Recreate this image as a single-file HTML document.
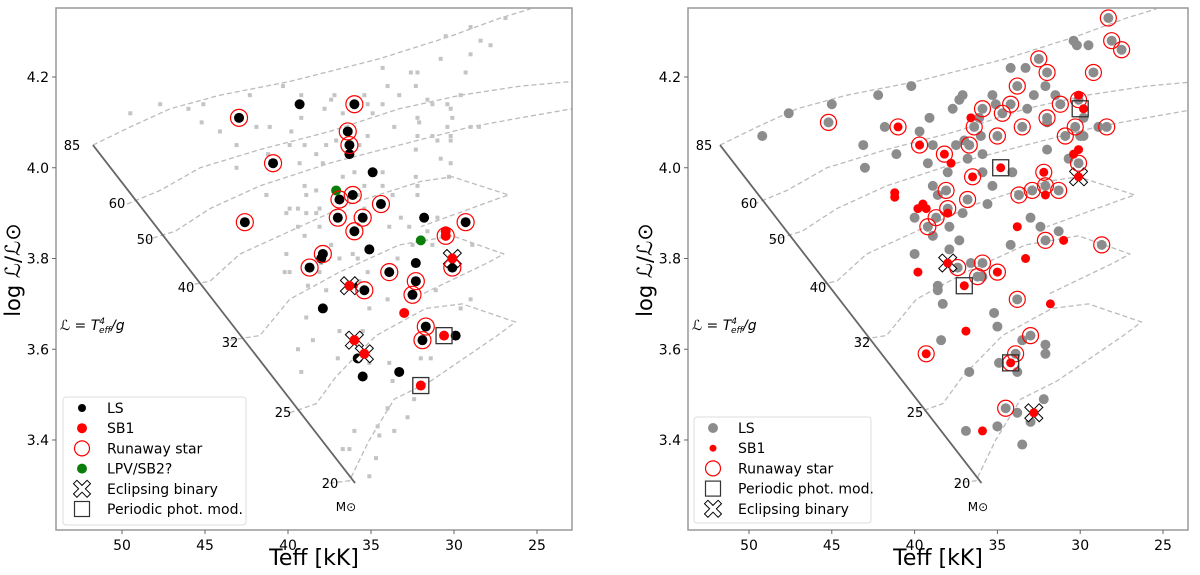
<!DOCTYPE html>
<html><head><meta charset="utf-8">
<style>
html,body{margin:0;padding:0;background:#fff;}
svg{display:block;font-family:"DejaVu Sans","Liberation Sans",sans-serif;}
</style></head>
<body>
<svg id="chart" width="1200" height="575" viewBox="0 0 1200 575" xmlns="http://www.w3.org/2000/svg"></svg>
<script>
// ---- data (Teff in kK, log L/Lsun) ----
const yTicks = [3.4, 3.6, 3.8, 4.0, 4.2];
const xTicks = [50, 45, 40, 35, 30, 25];
const massLabels = ["85","60","50","40","32","25","20"];
const zamsT = [51.75, 35.96];
const zamsL = [4.05, 3.305];
const track85T = [51.75,49.5,47.1,44.1,39.9,34.5,30.2,27.2,25.4];
const track85L = [4.05,4.09,4.13,4.16,4.19,4.24,4.29,4.33,4.35];
const track60T = [49.7,47.7,45.3,41.7,37.5,33.3,29.6,26.0,22.9];
const track60L = [3.92,3.95,4.0,4.04,4.08,4.13,4.16,4.18,4.19];
const track50T = [48.6,46.8,44.7,41.7,37.5,33.3,29.0,26.0,22.9];
const track50L = [3.84,3.86,3.91,3.96,4.01,4.05,4.09,4.11,4.13];
const track40T = [46.1,44.7,42.9,39.9,36.3,32.0,30.1,26.7,27.5,32.0];
const track40L = [3.74,3.75,3.81,3.86,3.92,3.97,3.98,3.94,3.93,3.87];
const track32T = [43.5,41.7,39.9,36.9,33.3,30.1,27.0,28.0,32.0];
const track32L = [3.62,3.63,3.71,3.77,3.83,3.85,3.81,3.79,3.72];
const track25T = [39.9,38.3,37.1,34.7,31.7,29.5,26.3,27.4,31.4];
const track25L = [3.46,3.48,3.54,3.63,3.69,3.70,3.66,3.63,3.53];
const track20T = [37.5,36.3,35.1,33.6,31.4];
const track20L = [3.305,3.31,3.40,3.49,3.53];

// Left panel
const bgT = [45.1,45.2,42.3,43.1,43.1,41.9,41.1,41.2,40.3,39.2,39.2,39.8,39.9,39.0,37.7,38.3,39.3,37.9,37.4,37.2,37.8,36.7,37.1,36.7,36.0,35.4,35.2,34.9,35.2,35.7,34.3,34.3,34.0,34.3,33.3,33.6,32.6,32.2,32.3,31.6,31.3,32.2,32.1,32.2,32.3,31.3,31.0,30.2,30.1,30.2,30.4,29.3,30.4,30.2,30.8,30.2,30.3,32.2,32.3,33.7,34.3,35.4,35.8,38.1,38.3,38.9,39.0,39.9,40.1,39.4,41.3,41.3,38.9,38.3,37.4,38.1,39.0,39.4,40.1,39.9,38.0,38.1,36.1,35.8,35.2,35.7,33.4,33.2,33.9,35.4,32.7,32.2,31.0,31.6,32.5,31.3,28.9,28.5,29.0,38.8,37.7,34.0,31.1,49.5,47.7,46.0,44.1,28.4,27.8,29.0,30.5,26.9,29.0,30.8,29.6,40.2,36.9,36.6,35.1,38.9,38.5,39.4,39.2,37.0,35.1,33.9,33.7,36.9,35.5,32.0,32.4,34.0,32.8,34.6,34.5,36.0,36.7,36.3,34.7,35.1,33.6,29.6,29.0,31.4];
const bgL = [4.14,4.10,4.16,4.05,4.0,4.09,4.09,4.03,4.18,4.16,4.11,4.08,4.05,4.05,4.05,4.03,4.01,4.01,4.15,4.16,4.13,4.12,4.06,3.98,3.99,4.16,4.14,4.12,4.07,4.05,3.99,4.14,4.18,4.22,4.16,4.09,4.21,4.21,4.18,4.15,4.14,4.11,4.10,4.07,4.04,4.07,4.06,4.07,4.11,4.13,4.14,4.21,4.09,4.06,4.02,4.01,3.98,3.96,3.98,3.94,3.96,3.96,3.94,3.91,3.95,3.94,3.96,3.91,3.90,3.91,3.94,3.94,3.90,3.90,3.83,3.87,3.85,3.87,3.81,3.77,3.79,3.77,3.81,3.80,3.77,3.75,3.80,3.89,3.87,3.91,3.87,3.94,3.89,3.86,3.83,3.83,3.83,4.09,4.09,3.74,3.73,3.71,3.73,4.12,4.14,4.13,4.08,4.28,4.27,4.25,4.29,4.33,4.31,4.24,4.16,3.77,3.80,3.73,3.69,3.67,3.62,3.60,3.55,3.58,3.57,3.57,3.53,3.64,3.64,3.58,3.49,3.47,3.45,3.43,3.41,3.42,3.38,3.38,3.36,3.32,3.42,3.69,3.71,3.58];
const lsT = [42.95,39.3,40.9,36.0,36.4,36.3,36.3,34.9,42.6,36.9,36.1,34.4,37.0,35.5,36.0,31.8,29.3,35.1,37.9,38.0,38.7,33.9,32.3,32.3,30.1,37.9,35.4,32.5,31.7,29.9,31.9,35.8,35.5,33.3,36.1];
const lsL = [4.11,4.14,4.01,4.14,4.08,4.05,4.03,3.99,3.88,3.93,3.94,3.92,3.89,3.89,3.86,3.89,3.88,3.82,3.81,3.80,3.78,3.77,3.79,3.75,3.78,3.69,3.73,3.72,3.65,3.63,3.62,3.58,3.54,3.55,3.74];
const sb1T = [30.5,30.5,30.1,36.3,33.0,30.6,36.0,35.4,32.0];
const sb1L = [3.86,3.85,3.80,3.74,3.68,3.63,3.62,3.59,3.52];
const lpvT = [37.1,32.0];
const lpvL = [3.95,3.84];
const runT = [42.95,40.9,36.0,36.4,36.3,42.6,36.9,36.1,34.4,37.0,35.5,36.0,29.3,37.9,38.7,33.9,32.3,30.1,35.4,32.5,31.7,31.9,30.5];
const runL = [4.11,4.01,4.14,4.08,4.05,3.88,3.93,3.94,3.92,3.89,3.89,3.86,3.88,3.81,3.78,3.77,3.75,3.78,3.73,3.72,3.65,3.62,3.85];
const ebT = [30.1,36.3,36.0,35.4];
const ebL = [3.80,3.74,3.62,3.59];
const ppT = [30.6,32.0];
const ppL = [3.63,3.52];

// Right panel
const rLsT = [49.2,47.6,45.0,45.2,43.1,43.0,42.2,41.8,40.2,39.7,39.1,41.1,37.7,35.9,34.7,34.2,35.1,33.2,36.1,36.4,35.0,36.0,33.5,32.0,32.0,31.2,31.5,30.1,29.8,28.9,28.4,30.3,30.9,32.0,30.0,29.8,30.7,30.1,38.9,37.5,36.7,37.0,36.8,35.9,39.2,38.0,35.9,34.1,32.1,32.9,33.7,31.3,35.3,36.8,35.6,38.1,38.9,38.6,38.0,38.7,40.0,39.2,37.9,37.1,38.9,37.3,33.0,32.4,31.3,32.1,28.7,34.2,37.4,35.9,36.2,40.0,37.9,36.6,30.4,30.2,29.5,28.1,27.5,28.3,32.5,32.0,29.2,34.2,33.3,33.8,32.1,32.8,35.3,37.1,37.3,35.9,38.6,38.6,38.3,33.8,35.2,35.0,38.4,33.0,33.5,32.1,32.1,36.7,33.9,34.9,33.8,32.2,34.5,33.8,33.0,36.9,35.0,35.0,33.5];
const rLsL = [4.07,4.12,4.14,4.10,4.05,4.0,4.16,4.09,4.18,4.08,4.11,4.03,4.13,4.13,4.12,4.14,4.14,4.13,4.11,4.09,4.07,4.07,4.09,4.11,4.10,4.14,4.16,4.15,4.11,4.09,4.09,4.09,4.07,4.04,4.07,4.07,4.02,4.01,4.05,4.05,4.05,4.06,4.02,4.03,4.01,3.99,3.99,3.99,3.96,3.95,3.94,3.95,3.96,3.93,3.92,3.95,3.96,3.94,3.91,3.89,3.89,3.87,3.87,3.90,3.85,3.84,3.89,3.87,3.86,3.84,3.83,3.83,3.78,3.79,3.76,3.81,3.82,3.79,4.28,4.27,4.27,4.28,4.26,4.33,4.24,4.21,4.21,4.22,4.22,4.18,4.18,4.16,4.16,4.16,4.15,3.76,3.74,3.73,3.70,3.71,3.68,3.65,3.62,3.63,3.62,3.61,3.59,3.55,3.59,3.57,3.55,3.49,3.47,3.46,3.44,3.42,3.43,3.43,3.39];
const rSbT = [41.0,41.2,41.2,39.8,39.5,39.3,39.7,38.2,37.8,36.6,34.8,36.5,32.2,32.1,30.1,29.8,30.1,30.4,30.1,38.0,33.8,31.0,38.0,35.0,33.3,39.8,37.0,31.8,36.9,39.3,34.2,32.8,35.9];
const rSbL = [4.09,3.945,3.935,3.91,3.92,3.91,4.05,4.03,4.01,4.11,4.00,3.98,3.99,3.94,4.16,4.13,4.04,4.03,3.98,3.90,3.87,3.84,3.79,3.77,3.80,3.77,3.74,3.70,3.64,3.59,3.57,3.46,3.42];
const rRunT = [45.2,35.9,34.7,34.2,36.4,35.0,33.5,32.0,31.2,30.1,28.4,30.3,30.9,30.1,36.7,32.1,32.9,33.7,31.3,36.8,38.1,38.0,38.7,39.2,32.1,28.7,37.4,35.9,36.2,28.1,27.5,28.3,32.5,32.0,29.2,33.8,33.8,33.0,33.9,34.5,41.0,39.7,38.2,36.5,32.2,35.0,39.3,34.2];
const rRunL = [4.10,4.13,4.12,4.14,4.09,4.07,4.09,4.11,4.14,4.15,4.09,4.09,4.07,4.01,4.05,3.96,3.95,3.94,3.95,3.93,3.95,3.91,3.89,3.87,3.84,3.83,3.78,3.79,3.76,4.28,4.26,4.33,4.24,4.21,4.21,4.18,3.71,3.63,3.59,3.47,4.09,4.05,4.03,3.98,3.99,3.77,3.59,3.57];
const rPpT = [30.0,34.8,37.0,34.2];
const rPpL = [4.13,4.00,3.74,3.57];
const rEbT = [38.0,30.1,32.8];
const rEbL = [3.79,3.98,3.46];

// ---- rendering ----
const NS = "http://www.w3.org/2000/svg";
const svg = document.getElementById("chart");
function mk(tag, attrs, parent){const e=document.createElementNS(NS,tag);for(const k in attrs)e.setAttribute(k,attrs[k]);(parent||svg).appendChild(e);return e;}
const Y0=8, Y1=530;
function yS(L){return 77+(4.2-L)*453.75;}
const panels=[
 {id:"left", fx0:56, fx1:572, xs:T=>122+(50-T)*16.6},
 {id:"right",fx0:688,fx1:1188,xs:T=>749+(50-T)*16.56}
];
const massPix=[[72,145],[117,203],[145,239],[186,287],[230,342],[283,412],[330,483]];
const tracks=[[track85T,track85L],[track60T,track60L],[track50T,track50L],[track40T,track40L],[track32T,track32L],[track25T,track25L],[track20T,track20L]];

function Xmarker(g,cx,cy,s){
  const a=s*0.5,b=s*0.2;
  const pts=[[-a,-a+b],[-a+b,-a],[0,-b],[a-b,-a],[a,-a+b],[b,0],[a,a-b],[a-b,a],[0,b],[-a+b,a],[-a,a-b],[-b,0]];
  return mk("polygon",{points:pts.map(p=>(cx+p[0])+","+(cy+p[1])).join(" "),fill:"#fff",stroke:"#000","stroke-width":1},g);
}

panels.forEach((P,pi)=>{
  const g=mk("g",{});
  
  
  const clipId="clip"+pi;
  const cp=mk("clipPath",{id:clipId});
  mk("rect",{x:P.fx0,y:Y0,width:P.fx1-P.fx0,height:Y1-Y0},cp);
  const plot=mk("g",{"clip-path":"url(#"+clipId+")"},g);
  tracks.forEach((tr,i)=>{
    const d=tr[0].map((t,j)=>(j?"L":"M")+P.xs(t).toFixed(1)+","+yS(tr[1][j]).toFixed(1)).join(" ");
    const p=mk("path",{d:d,fill:"none",stroke:"#bbbbbb","stroke-width":1.3,"stroke-dasharray":"5,3","stroke-linejoin":"round"},plot);
    
    
  });
  const z=mk("line",{x1:P.xs(zamsT[0]),y1:yS(zamsL[0]),x2:P.xs(zamsT[1]),y2:yS(zamsL[1]),stroke:"#666","stroke-width":1.8},plot);
  
  
  const off=P.fx0-56;
  massLabels.forEach((m,i)=>{
    const t=mk("text",{x:massPix[i][0]+off,y:massPix[i][1]+5,"font-size":13,"text-anchor":"middle"},g);
    t.textContent=m;
    
    
  });
  const ms=mk("text",{x:346+off,y:511,"font-size":12,"text-anchor":"middle"},g);
  ms.textContent="M\u2299";
  
  
  const fl=mk("text",{x:60+off,y:330,"font-size":14,"font-style":"italic"},g);
  fl.innerHTML='\u2112 = T<tspan dy="-6" font-size="9">4</tspan><tspan dy="9" dx="-6" font-size="9">eff</tspan><tspan dy="-3">/g</tspan>';
  
  

  if(pi===0){
    bgT.forEach((t,i)=>{const r=mk("rect",{x:P.xs(t)-2,y:yS(bgL[i])-2,width:4,height:4,fill:"#c4c4c4"},plot);
      
      });
    lsT.forEach((t,i)=>{const c=mk("circle",{cx:P.xs(t),cy:yS(lsL[i]),r:5,fill:"#000"},plot);
      
      });
    lpvT.forEach((t,i)=>{const c=mk("circle",{cx:P.xs(t),cy:yS(lpvL[i]),r:5,fill:"#0a7d0a"},plot);
      
      });
    ebT.forEach((t,i)=>{const x=Xmarker(plot,P.xs(t),yS(ebL[i]),18);
      
      });
    sb1T.forEach((t,i)=>{const c=mk("circle",{cx:P.xs(t),cy:yS(sb1L[i]),r:5,fill:"#ff0000"},plot);
      
      });
    runT.forEach((t,i)=>{const c=mk("circle",{cx:P.xs(t),cy:yS(runL[i]),r:8.5,fill:"none",stroke:"#ff0000","stroke-width":1.2},plot);
      
      });
    ppT.forEach((t,i)=>{const r=mk("rect",{x:P.xs(t)-8,y:yS(ppL[i])-8,width:16,height:16,fill:"none",stroke:"#333","stroke-width":1.3},plot);
      
      });
  } else {
    rLsT.forEach((t,i)=>{const c=mk("circle",{cx:P.xs(t),cy:yS(rLsL[i]),r:5,fill:"#8c8c8c"},plot);
      
      });
    rEbT.forEach((t,i)=>{const x=Xmarker(plot,P.xs(t),yS(rEbL[i]),18);
      
      });
    rSbT.forEach((t,i)=>{const c=mk("circle",{cx:P.xs(t),cy:yS(rSbL[i]),r:4.5,fill:"#ff0000"},plot);
      
      });
    rRunT.forEach((t,i)=>{const c=mk("circle",{cx:P.xs(t),cy:yS(rRunL[i]),r:8,fill:"none",stroke:"#ff0000","stroke-width":1.2},plot);
      
      });
    rPpT.forEach((t,i)=>{const r=mk("rect",{x:P.xs(t)-8,y:yS(rPpL[i])-8,width:16,height:16,fill:"none",stroke:"#333","stroke-width":1.3},plot);
      
      });
  }
  const fr=mk("rect",{x:P.fx0,y:Y0,width:P.fx1-P.fx0,height:Y1-Y0,fill:"none",stroke:"#999","stroke-width":1.5},g);
  
  
  xTicks.forEach(t=>{const x=P.xs(t);
    mk("line",{x1:x,y1:Y1,x2:x,y2:Y1+4,stroke:"#666","stroke-width":1},g);
    const tl=mk("text",{x:x,y:Y1+20,"font-size":14,"text-anchor":"middle"},g);
    tl.textContent=String(t);
    
    });
  yTicks.forEach(v=>{const y=yS(v);
    mk("line",{x1:P.fx0-4,y1:y,x2:P.fx0,y2:y,stroke:"#666","stroke-width":1},g);
    const tl=mk("text",{x:P.fx0-7,y:y+5,"font-size":14,"text-anchor":"end"},g);
    tl.textContent=v.toFixed(1);
    
    });
  const xt=mk("text",{x:(P.fx0+P.fx1)/2,y:565,"font-size":22,"text-anchor":"middle"},g);
  xt.textContent="Teff [kK]";
  
  
  const yx=P.fx0-36;
  const yt=mk("text",{x:yx,y:270,"font-size":21,"text-anchor":"middle",transform:"rotate(-90 "+yx+" 270)"},g);
  yt.textContent="log \u2112/\u2112\u2299";
  
  
});

function legend(x,y,w,h,items,name){
  const g=mk("g",{});
  
  
  mk("rect",{x:x,y:y,width:w,height:h,rx:3,fill:"#fff",stroke:"#ddd","stroke-width":1},g);
  items.forEach((it,i)=>{
    const cy=y+11+i*20.2, cx=x+19;
    if(it.k==="dot") mk("circle",{cx:cx,cy:cy,r:it.r||5,fill:it.c},g);
    if(it.k==="ring") mk("circle",{cx:cx,cy:cy,r:7.5,fill:"none",stroke:"#f00","stroke-width":1.2},g);
    if(it.k==="sq") mk("rect",{x:cx-7.5,y:cy-7.5,width:15,height:15,fill:"none",stroke:"#333","stroke-width":1.2},g);
    if(it.k==="x") Xmarker(g,cx,cy,17);
    const t=mk("text",{x:x+44,y:cy+5,"font-size":14},g);
    t.textContent=it.t;
    
    
  });
}
legend(63,397,183,128,[{k:"dot",c:"#000",t:"LS",r:4},{k:"dot",c:"#f00",t:"SB1"},{k:"ring",t:"Runaway star"},{k:"dot",c:"#0a7d0a",t:"LPV/SB2?"},{k:"x",t:"Eclipsing binary"},{k:"sq",t:"Periodic phot. mod."}],"left-legend");
legend(694,417,177,106,[{k:"dot",c:"#8c8c8c",t:"LS"},{k:"dot",c:"#f00",t:"SB1",r:3.5},{k:"ring",t:"Runaway star"},{k:"sq",t:"Periodic phot. mod."},{k:"x",t:"Eclipsing binary"}],"right-legend");
</script>
</body></html>
